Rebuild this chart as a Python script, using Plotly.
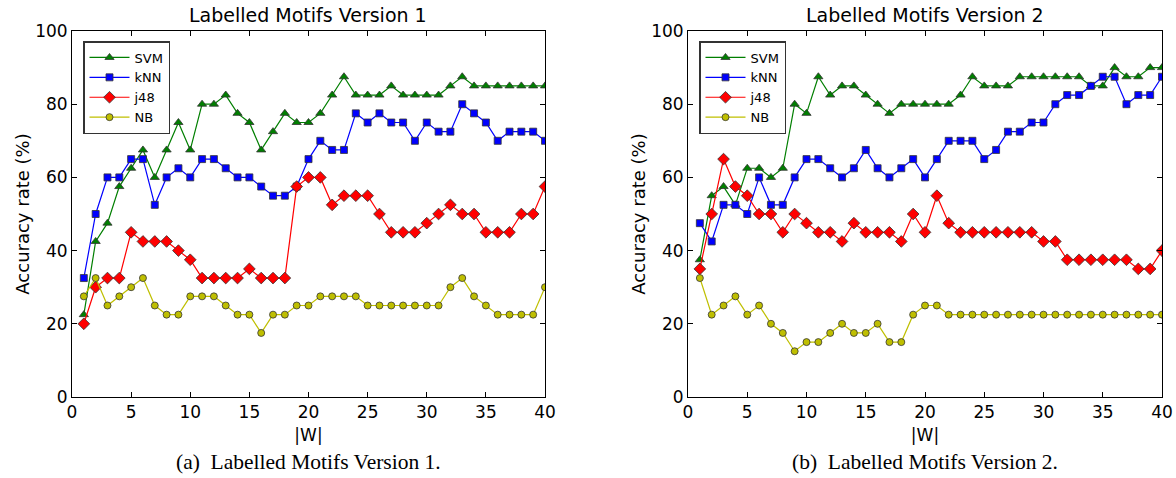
import plotly.graph_objects as go

W = list(range(1, 41))

svm_v1 = [22.5, 42.5, 47.5, 57.5, 62.5, 67.5, 60, 67.5, 75, 67.5,
          80, 80, 82.5, 77.5, 75, 67.5, 72.5, 77.5, 75, 75,
          77.5, 82.5, 87.5, 82.5, 82.5, 82.5, 85, 82.5, 82.5, 82.5,
          82.5, 85, 87.5, 85, 85, 85, 85, 85, 85, 85]
knn_v1 = [32.5, 50, 60, 60, 65, 65, 52.5, 60, 62.5, 60,
          65, 65, 62.5, 60, 60, 57.5, 55, 55, 57.5, 65,
          70, 67.5, 67.5, 77.5, 75, 77.5, 75, 75, 70, 75,
          72.5, 72.5, 80, 77.5, 75, 70, 72.5, 72.5, 72.5, 70]
j48_v1 = [20, 30, 32.5, 32.5, 45, 42.5, 42.5, 42.5, 40, 37.5,
          32.5, 32.5, 32.5, 32.5, 35, 32.5, 32.5, 32.5, 57.5, 60,
          60, 52.5, 55, 55, 55, 50, 45, 45, 45, 47.5,
          50, 52.5, 50, 50, 45, 45, 45, 50, 50, 57.5]
nb_v1 = [27.5, 32.5, 25, 27.5, 30, 32.5, 25, 22.5, 22.5, 27.5,
         27.5, 27.5, 25, 22.5, 22.5, 17.5, 22.5, 22.5, 25, 25,
         27.5, 27.5, 27.5, 27.5, 25, 25, 25, 25, 25, 25,
         25, 30, 32.5, 27.5, 25, 22.5, 22.5, 22.5, 22.5, 30]

svm_v2 = [37.5, 55, 57.5, 52.5, 62.5, 62.5, 60, 62.5, 80, 77.5,
          87.5, 82.5, 85, 85, 82.5, 80, 77.5, 80, 80, 80,
          80, 80, 82.5, 87.5, 85, 85, 85, 87.5, 87.5, 87.5,
          87.5, 87.5, 87.5, 85, 85, 90, 87.5, 87.5, 90, 90]
knn_v2 = [47.5, 42.5, 52.5, 52.5, 50, 60, 52.5, 52.5, 60, 65,
          65, 62.5, 60, 62.5, 67.5, 62.5, 60, 62.5, 65, 60,
          65, 70, 70, 70, 65, 67.5, 72.5, 72.5, 75, 75,
          80, 82.5, 82.5, 85, 87.5, 87.5, 80, 82.5, 82.5, 87.5]
j48_v2 = [35, 50, 65, 57.5, 55, 50, 50, 45, 50, 47.5,
          45, 45, 42.5, 47.5, 45, 45, 45, 42.5, 50, 45,
          55, 47.5, 45, 45, 45, 45, 45, 45, 45, 42.5,
          42.5, 37.5, 37.5, 37.5, 37.5, 37.5, 37.5, 35, 35, 40]
nb_v2 = [32.5, 22.5, 25, 27.5, 22.5, 25, 20, 17.5, 12.5, 15,
         15, 17.5, 20, 17.5, 17.5, 20, 15, 15, 22.5, 25,
         25, 22.5, 22.5, 22.5, 22.5, 22.5, 22.5, 22.5, 22.5, 22.5,
         22.5, 22.5, 22.5, 22.5, 22.5, 22.5, 22.5, 22.5, 22.5, 22.5]

names = ["SVM", "kNN", "j48", "NB"]
colors = ["#007f00", "#0000ff", "#ff0000", "#bfbf00"]
symbols = ["triangle-up", "square", "diamond", "circle"]
sizes = [8, 7, 9, 7]

titles = ["Labelled Motifs Version 1", "Labelled Motifs Version 2"]
captions = ["(a)\u00a0 Labelled Motifs Version 1.", "(b)\u00a0 Labelled Motifs Version 2."]
x_ticks = [0, 5, 10, 15, 20, 25, 30, 35, 40]
y_ticks = [0, 20, 40, 60, 80, 100]

fig = go.Figure()
series_sets = [[svm_v1, knn_v1, j48_v1, nb_v1], [svm_v2, knn_v2, j48_v2, nb_v2]]
for p, sers in enumerate(series_sets):
    for i, vals in enumerate(sers):
        fig.add_trace(go.Scatter(
            x=W, y=vals, name=names[i], mode="lines+markers",
            line=dict(color=colors[i], width=1.2),
            marker=dict(symbol=symbols[i], size=sizes[i], color=colors[i],
                        line=dict(color="#333333", width=0.8)),
            xaxis="x" if p == 0 else "x2", yaxis="y" if p == 0 else "y2",
            legend="legend" if p == 0 else "legend2",
        ))

Wf, Hf = 1176, 478


def px_x(x):
    return x / Wf


def px_y(y):
    return 1 - y / Hf


dom_left = [px_x(72), px_x(545)]
dom_right = [px_x(688), px_x(1162)]
dom_y = [px_y(397), px_y(31)]

axis_common = dict(showline=True, linecolor="black", linewidth=1, mirror="ticks",
                   ticks="inside", ticklen=5, tickcolor="black", showgrid=False,
                   zeroline=False, automargin=False,
                   tickfont=dict(family="DejaVu Sans", size=17, color="black"))

xax = dict(axis_common, range=[0, 40], tickvals=x_ticks,
           title=dict(text="|W|", font=dict(family="DejaVu Sans", size=17, color="black"), standoff=7))
yax = dict(axis_common, range=[0, 100], tickvals=y_ticks,
           title=dict(text="Accuracy rate (%)", font=dict(family="DejaVu Sans", size=18, color="black"), standoff=0))

legend_common = dict(bgcolor="white", bordercolor="#333333", borderwidth=1.5,
                     font=dict(family="DejaVu Sans", size=13, color="black"),
                     xanchor="left", yanchor="top", itemwidth=40, tracegroupgap=2)

fig.update_layout(
    width=Wf, height=Hf,
    margin=dict(l=0, r=0, t=0, b=0, autoexpand=False),
    paper_bgcolor="white", plot_bgcolor="white",
    xaxis=dict(xax, domain=dom_left, anchor="y"),
    yaxis=dict(yax, domain=dom_y, anchor="x"),
    xaxis2=dict(xax, domain=dom_right, anchor="y2"),
    yaxis2=dict(yax, domain=dom_y, anchor="x2"),
    legend=dict(legend_common, x=px_x(83), y=px_y(41)),
    legend2=dict(legend_common, x=px_x(699), y=px_y(41)),
)

for p, dom in enumerate([dom_left, dom_right]):
    cx = (dom[0] + dom[1]) / 2
    fig.add_annotation(text=titles[p], x=cx, y=px_y(15), xref="paper", yref="paper",
                       showarrow=False, xanchor="center", yanchor="middle",
                       font=dict(family="DejaVu Sans", size=19, color="black"))
    fig.add_annotation(text=captions[p], x=cx, y=px_y(462), xref="paper", yref="paper",
                       showarrow=False, xanchor="center", yanchor="middle",
                       font=dict(family="Liberation Serif", size=21.5, color="black"))

fig.write_html("out.html", config={"displayModeBar": False},
               post_script="document.body.style.margin='0';document.body.style.overflow='hidden';")
